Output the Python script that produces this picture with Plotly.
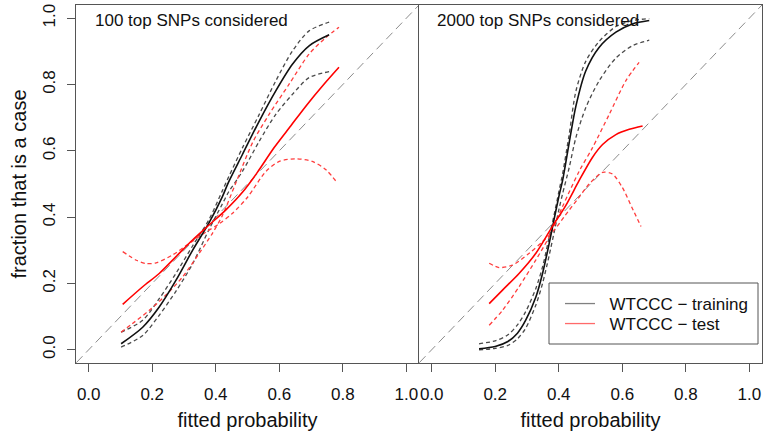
import plotly.graph_objects as go

# ---------------- data ----------------
panel_titles = ["100 top SNPs considered", "2000 top SNPs considered"]
tick_vals = [0.0, 0.2, 0.4, 0.6, 0.8, 1.0]
tick_text = ["0.0", "0.2", "0.4", "0.6", "0.8", "1.0"]
diag = [-0.1, 1.1]

# 100 SNPs - training (black)
train_x_100 = [0.102, 0.17, 0.222, 0.275, 0.327, 0.38, 0.421, 0.44, 0.484, 0.537, 0.589, 0.642, 0.694, 0.757]
train_fit_100 = [0.018, 0.068, 0.129, 0.21, 0.30, 0.385, 0.462, 0.505, 0.589, 0.690, 0.781, 0.862, 0.917, 0.950]
train_up_100 = [0.053, 0.089, 0.154, 0.231, 0.313, 0.395, 0.48, 0.52, 0.609, 0.71, 0.811, 0.902, 0.962, 0.988]
train_lo_100 = [0.008, 0.043, 0.104, 0.177, 0.259, 0.365, 0.44, 0.475, 0.538, 0.629, 0.71, 0.771, 0.821, 0.839]

# 100 SNPs - test (red)
test_x_100 = [0.107, 0.17, 0.222, 0.275, 0.327, 0.38, 0.432, 0.484, 0.531, 0.584, 0.636, 0.688, 0.74, 0.788]
test_fit_100 = [0.137, 0.19, 0.23, 0.281, 0.331, 0.377, 0.422, 0.475, 0.535, 0.61, 0.675, 0.74, 0.80, 0.852]
testA_x_100 = [0.107, 0.15, 0.18, 0.212, 0.264, 0.317, 0.369, 0.411, 0.453, 0.5, 0.558, 0.60, 0.652, 0.704, 0.747, 0.783]
testA_y_100 = [0.296, 0.27, 0.26, 0.262, 0.286, 0.321, 0.355, 0.38, 0.412, 0.46, 0.538, 0.568, 0.576, 0.568, 0.543, 0.503]
testB_x_100 = [0.102, 0.138, 0.191, 0.243, 0.296, 0.348, 0.39, 0.421, 0.464, 0.516, 0.568, 0.631, 0.694, 0.747, 0.788]
testB_y_100 = [0.053, 0.079, 0.119, 0.165, 0.22, 0.291, 0.352, 0.405, 0.505, 0.625, 0.71, 0.801, 0.892, 0.942, 0.973]

# 2000 SNPs - training (black)
train_x_2000 = [0.149, 0.2, 0.24, 0.27, 0.296, 0.328, 0.349, 0.37, 0.385, 0.401, 0.412, 0.433, 0.454, 0.485, 0.527, 0.58, 0.632, 0.685]
train_fit_2000 = [0.003, 0.01, 0.025, 0.05, 0.089, 0.159, 0.23, 0.321, 0.392, 0.465, 0.51, 0.625, 0.735, 0.841, 0.912, 0.958, 0.983, 0.993]
train_up_2000 = [0.018, 0.027, 0.045, 0.075, 0.115, 0.185, 0.25, 0.34, 0.405, 0.48, 0.53, 0.65, 0.78, 0.87, 0.93, 0.975, 0.993, 0.999]
train_lo_2000 = [0.0, 0.004, 0.013, 0.033, 0.065, 0.135, 0.2, 0.285, 0.352, 0.425, 0.47, 0.55, 0.64, 0.73, 0.811, 0.88, 0.917, 0.934]

# 2000 SNPs - test (red)
test_x_2000 = [0.181, 0.223, 0.275, 0.328, 0.38, 0.422, 0.464, 0.506, 0.538, 0.58, 0.622, 0.664]
test_fit_2000 = [0.139, 0.18, 0.23, 0.291, 0.372, 0.435, 0.51, 0.58, 0.619, 0.649, 0.665, 0.675]
testA_x_2000 = [0.181, 0.212, 0.254, 0.307, 0.349, 0.385, 0.42, 0.46, 0.496, 0.538, 0.569, 0.60, 0.63, 0.659]
testA_y_2000 = [0.261, 0.248, 0.255, 0.291, 0.326, 0.36, 0.405, 0.455, 0.5, 0.535, 0.53, 0.49, 0.43, 0.372]
testB_x_2000 = [0.181, 0.223, 0.275, 0.328, 0.37, 0.412, 0.464, 0.506, 0.559, 0.611, 0.653]
testB_y_2000 = [0.074, 0.119, 0.19, 0.271, 0.341, 0.432, 0.538, 0.609, 0.71, 0.811, 0.867]

legend_names = ["WTCCC \u2212 training", "WTCCC \u2212 test"]

# ---------------- styles ----------------
BLACK = "#111111"
BLACK_D = "#4a4a4a"
RED = "#ff0000"
RED_D = "#ff3c3c"
DASH = "4px,3px"
FONT = "Liberation Sans, Arial, Helvetica, sans-serif"
FS = 17
ML, MB, PW, PH = 76, 73, 686, 358  # margins / plot area in px

fig = go.Figure()

def add(x, y, color, width, dash, xa, ya):
    fig.add_trace(go.Scatter(
        x=x, y=y, mode="lines", xaxis=xa, yaxis=ya, showlegend=False,
        hoverinfo="skip",
        line=dict(color=color, width=width, dash=dash, shape="spline", smoothing=0.8),
    ))

for xa, ya in [("x", "y"), ("x2", "y2")]:
    fig.add_trace(go.Scatter(x=diag, y=diag, mode="lines", xaxis=xa, yaxis=ya,
                             showlegend=False, hoverinfo="skip",
                             line=dict(color="#8c8c8c", width=1, dash="9px,5px")))

# left panel
add(train_x_100, train_up_100, BLACK_D, 1.3, DASH, "x", "y")
add(train_x_100, train_lo_100, BLACK_D, 1.3, DASH, "x", "y")
add(testA_x_100, testA_y_100, RED_D, 1.3, DASH, "x", "y")
add(testB_x_100, testB_y_100, RED_D, 1.3, DASH, "x", "y")
add(train_x_100, train_fit_100, BLACK, 1.6, "solid", "x", "y")
add(test_x_100, test_fit_100, RED, 1.6, "solid", "x", "y")

# right panel
add(train_x_2000, train_up_2000, BLACK_D, 1.3, DASH, "x2", "y2")
add(train_x_2000, train_lo_2000, BLACK_D, 1.3, DASH, "x2", "y2")
add(testA_x_2000, testA_y_2000, RED_D, 1.3, DASH, "x2", "y2")
add(testB_x_2000, testB_y_2000, RED_D, 1.3, DASH, "x2", "y2")
add(train_x_2000, train_fit_2000, BLACK, 1.6, "solid", "x2", "y2")
add(test_x_2000, test_fit_2000, RED, 1.6, "solid", "x2", "y2")

# legend entries (one legend per row for R-like tight spacing)
NB = "\u00a0\u00a0"
fig.add_trace(go.Scatter(x=[None], y=[None], mode="lines", name=NB + legend_names[0],
                         legend="legend", xaxis="x2", yaxis="y2",
                         line=dict(color="#808080", width=1.3)))
fig.add_trace(go.Scatter(x=[None], y=[None], mode="lines", name=NB + legend_names[1],
                         legend="legend2", xaxis="x2", yaxis="y2",
                         line=dict(color="#ff6a6a", width=1.3)))

axis_common = dict(range=[-0.04, 1.04], showgrid=False, zeroline=False, automargin=False,
                   showline=True, linecolor="#555555", linewidth=1, mirror=True)

leg_x = (560 - ML) / PW
leg_common = dict(x=leg_x, xanchor="left", yanchor="middle",
                  bgcolor="rgba(0,0,0,0)", borderwidth=0,
                  font=dict(size=FS, family=FONT, color="#111111"), itemclick=False)

yaxis_left = dict(axis_common)
yaxis_left["mirror"] = False  # right edge supplied by the right panel's axis line

fig.update_layout(
    width=766, height=436,
    margin=dict(l=ML, r=4, t=5, b=MB, autoexpand=False),
    paper_bgcolor="white", plot_bgcolor="white",
    font=dict(family=FONT, size=FS, color="#111111"),
    showlegend=True,
    legend=dict(y=(363 - 304) / PH, **leg_common),
    legend2=dict(y=(363 - 324) / PH, **leg_common),
    xaxis=dict(domain=[0, 0.5], anchor="y", tickvals=tick_vals, ticktext=tick_text,
               ticks="outside", ticklen=8, tickcolor="#555555",
               ticklabelstandoff=8,
               title=dict(text="fitted probability", standoff=9), **axis_common),
    xaxis2=dict(domain=[0.5, 1], anchor="y2", tickvals=tick_vals, ticktext=tick_text,
                ticks="outside", ticklen=8, tickcolor="#555555",
                ticklabelstandoff=8,
                title=dict(text="fitted probability", standoff=9), **axis_common),
    yaxis=dict(domain=[0, 1], anchor="x", tickvals=tick_vals, ticktext=tick_text,
               ticks="outside", ticklen=8, tickcolor="#555555", tickangle=-90,
               ticklabelstandoff=5,
               title=dict(text="fraction that is a case", standoff=8), **yaxis_left),
    yaxis2=dict(domain=[0, 1], anchor="x2", matches="y", showticklabels=False,
                ticks="", **axis_common),
    annotations=[
        dict(text=panel_titles[0], x=0.013, y=0.993, xref="x", yref="y",
             xanchor="left", yanchor="middle", showarrow=False,
             font=dict(size=FS, family=FONT, color="#111111")),
        dict(text=panel_titles[1], x=0.01, y=0.993, xref="x2", yref="y2",
             xanchor="left", yanchor="middle", showarrow=False,
             font=dict(size=FS, family=FONT, color="#111111")),
    ],
    shapes=[
        dict(type="rect", xref="paper", yref="paper",
             x0=(549 - ML) / PW, x1=(758 - ML) / PW,
             y0=(363 - 344) / PH, y1=(363 - 283) / PH,
             line=dict(color="#555555", width=1), fillcolor="rgba(0,0,0,0)", layer="above"),
    ],
)

fig.write_html("out.html",
               config={"displayModeBar": False},
               post_script="document.body.style.margin='0';document.body.style.padding='0';")
